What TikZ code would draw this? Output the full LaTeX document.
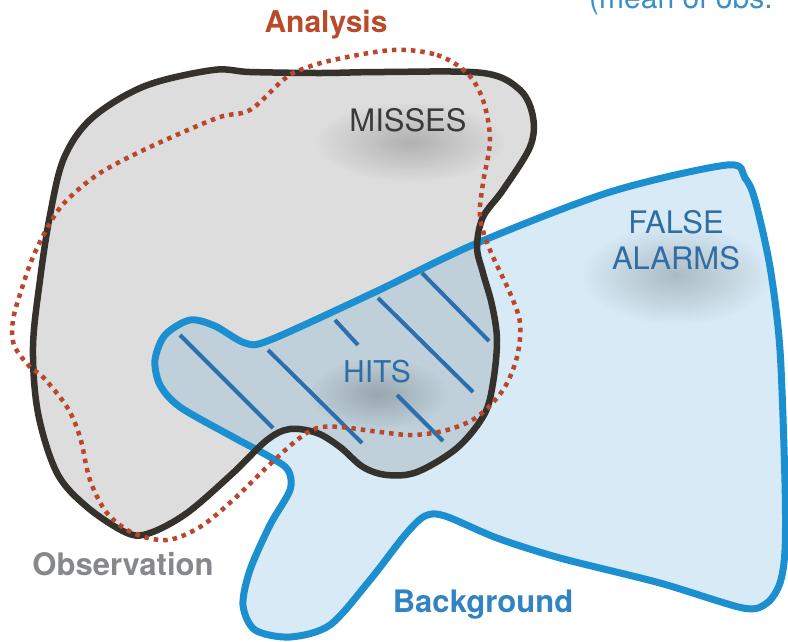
\documentclass[tikz,border=0pt]{standalone}
\usepackage{fontspec}
\setmainfont{TeX Gyre Heros}
\usetikzlibrary{fadings}
\definecolor{obsfill}{HTML}{DDDDDD}
\definecolor{bgfill}{HTML}{D7EAF5}
\definecolor{hitsfill}{HTML}{BFD0DA}
\definecolor{blueline}{HTML}{1B8FD0}
\definecolor{hatchcol}{HTML}{2A6FAE}
\definecolor{blackline}{HTML}{35322D}
\definecolor{redline}{HTML}{B8472C}
\definecolor{txtblue}{HTML}{2F6DA3}
\definecolor{anared}{HTML}{B94A2A}
\definecolor{obsgray}{HTML}{86888B}
\definecolor{bgblue}{HTML}{3283C2}
\definecolor{missgray}{HTML}{3A3A3A}
\definecolor{meanblue}{HTML}{3A8FC9}
\tikzfading[name=softglow, inner color=transparent!80, outer color=transparent!100]
\tikzset{
  obsline/.style={draw=blackline, line width=6.5pt, line join=round},
  bgline/.style={draw=blueline, line width=7pt, line join=round},
  analine/.style={draw=redline, line width=4.5pt, dash pattern=on 4.5pt off 5pt},
  hatchline/.style={draw=hatchcol, line width=4pt},
  glow/.style={fill=black, path fading=softglow},
  biglabel/.style={font=\bfseries\fontsize{30}{36}\selectfont, anchor=base, inner sep=0pt},
  inlabel/.style={font=\fontsize{31}{36}\selectfont, anchor=base, inner sep=0pt},
}
\def\obspath{plot[smooth cycle, tension=0.55] coordinates {(213,70) (250,72) (320,73) (383,72) (483,73) (520,90) (533,117) (530,147) (503,190) (483,217) (477,247) (483,273) (492,305) (497,340) (493,383) (484,415) (457,448) (417,472) (387,475) (363,467) (340,447) (317,433) (290,429) (267,440) (233,473) (187,513) (150,533) (127,533) (87,507) (57,473) (38,413) (33,347) (40,280) (50,215) (64,158) (92,118) (145,86)}}
\def\bgpath{plot[smooth cycle, tension=0.5] coordinates {(155,360) (165,335) (190,320) (215,326) (245,343) (270,340) (373,293) (475,244) (610,192) (727,165) (745,178) (755,200) (770,267) (780,350) (785,483) (785,550) (780,583) (767,603) (743,608) (660,583) (560,558) (497,538) (445,516) (425,516) (405,535) (370,580) (330,625) (290,637) (255,630) (243,605) (250,570) (270,525) (290,490) (288,470) (270,457) (233,437) (180,407) (160,385)}}
\def\anapath{plot[smooth cycle, tension=0.55] coordinates {(393,50) (437,55) (467,73) (483,100) (490,140) (483,183) (480,217) (490,250) (510,293) (520,323) (517,357) (503,390) (477,417) (447,430) (413,435) (380,432) (340,427) (317,428) (297,440) (267,467) (233,500) (200,527) (167,540) (133,533) (107,513) (90,480) (80,437) (67,407) (43,377) (30,367) (14,345) (13,320) (22,288) (33,257) (50,223) (67,200) (100,173) (150,147) (217,118) (250,110) (283,80) (300,70) (333,60)}}
\begin{document}
\begin{tikzpicture}[x=1pt,y=-1pt]
\useasboundingbox (0,0) rectangle (788,641);
% fills
\fill[bgfill] \bgpath;
\fill[obsfill] \obspath;
\begin{scope}
  \clip \obspath;
  \fill[hitsfill] \bgpath;
\end{scope}
% soft shadows under labels
\fill[glow] (410,142) ellipse [x radius=95pt, y radius=40pt];
\fill[glow] (378,394) ellipse [x radius=70pt, y radius=36pt];
\fill[glow] (676,275) ellipse [x radius=95pt, y radius=50pt];
% outlines
\draw[bgline] \bgpath;
\draw[hatchline] (180,335) -- (273,428);
\draw[hatchline] (268,350) -- (362,443);
\draw[hatchline] (335,320) -- (358,345);
\draw[hatchline] (378,298) -- (473,392);
\draw[hatchline] (422,273) -- (489,341);
\draw[hatchline] (397,395) -- (443,441);
\draw[obsline] \obspath;
\draw[analine] \anapath;
% labels
\node[biglabel, text=anared] (analysis) at (326,32) {Analysis};
\node[biglabel, text=obsgray, font=\bfseries\fontsize{31}{36}\selectfont] (observation) at (123,575) {Observation};
\node[biglabel, text=bgblue, font=\bfseries\fontsize{31}{36}\selectfont] (background) at (483,612) {Background};
\node[inlabel, text=missgray] (misses) at (408,131) {MISSES};
\node[inlabel, text=txtblue, font=\fontsize{30}{36}\selectfont] (hits) at (377,382) {HITS};
\node[inlabel, text=txtblue] (false) at (676,233) {FALSE};
\node[inlabel, text=txtblue] (alarms) at (676,269) {ALARMS};
\node[inlabel, text=meanblue, font=\fontsize{30}{36}\selectfont, anchor=base west] (mean) at (589,8) {(mean of obs.};
\end{tikzpicture}
\end{document}
